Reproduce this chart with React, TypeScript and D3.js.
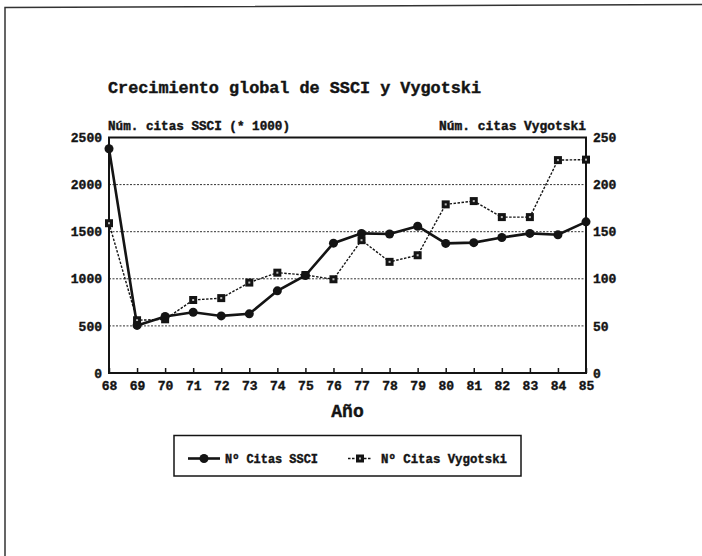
import React, { useRef, useEffect } from 'react';
import * as d3 from 'd3';

const years = [1968, 1969, 1970, 1971, 1972, 1973, 1974, 1975, 1976, 1977, 1978, 1979, 1980, 1981, 1982, 1983, 1984, 1985];
const yearLabels = ['68', '69', '70', '71', '72', '73', '74', '75', '76', '77', '78', '79', '80', '81', '82', '83', '84', '85'];
const ssci = [2380, 505, 600, 645, 606, 628, 872, 1035, 1378, 1482, 1476, 1558, 1376, 1384, 1438, 1482, 1468, 1605];
const vygotski = [159, 56, 57, 77.5, 79.5, 96, 106.5, 104, 99.5, 141, 118, 125, 179, 182.5, 165.5, 165.5, 226, 226.5];
const leftTicks = [0, 500, 1000, 1500, 2000, 2500];
const rightTicks = [0, 50, 100, 150, 200, 250];
const gridTicks = [500, 1000, 1500, 2000];

const title = 'Crecimiento global de SSCI y Vygotski';
const leftLabel = 'Núm. citas SSCI (* 1000)';
const rightLabel = 'Núm. citas Vygotski';
const xLabel = 'Año';
const legendLabels = ['Nº Citas SSCI', 'Nº Citas Vygotski'];

const FONT = '"Liberation Mono", "DejaVu Sans Mono", monospace';
const INK = '#141414';

const Chart: React.FC = () => {
  const ref = useRef<SVGSVGElement | null>(null);

  useEffect(() => {
    if (!ref.current) return;
    const svg = d3.select(ref.current);
    svg.selectAll('*').remove();

    const left = 109;
    const right = 586;
    const top = 137.5;
    const bottom = 373;

    const x = d3.scaleLinear().domain([years[0], years[years.length - 1]]).range([left, right]);
    const yL = d3.scaleLinear().domain([0, 2500]).range([bottom, top]);
    const yR = d3.scaleLinear().domain([0, 250]).range([bottom, top]);

    svg.append('rect').attr('width', 702).attr('height', 556).attr('fill', '#fff');

    // page frame of the scan
    svg.append('path')
      .attr('d', 'M5,556 L5,7.5 L702,4.5')
      .attr('fill', 'none')
      .attr('stroke', '#333')
      .attr('stroke-width', 1.5);

    const heavy = (t: d3.Selection<SVGTextElement, unknown, null, undefined>, size: number) =>
      t.attr('font-family', FONT)
        .attr('font-weight', 'bold')
        .attr('font-size', size)
        .attr('fill', INK)
        .attr('stroke', INK)
        .attr('stroke-width', 0.4);

    svg.append('text')
      .attr('x', 108)
      .attr('y', 93)
      .call(t => heavy(t, 16.5))
      .attr('textLength', 373)
      .attr('lengthAdjust', 'spacingAndGlyphs')
      .text(title);

    svg.append('text')
      .attr('x', 108)
      .attr('y', 130)
      .call(t => heavy(t, 12))
      .attr('textLength', 182)
      .attr('lengthAdjust', 'spacingAndGlyphs')
      .text(leftLabel);

    svg.append('text')
      .attr('x', 586)
      .attr('y', 130)
      .attr('text-anchor', 'end')
      .call(t => heavy(t, 12))
      .attr('textLength', 147)
      .attr('lengthAdjust', 'spacingAndGlyphs')
      .text(rightLabel);

    // grid
    svg.append('g')
      .selectAll('line')
      .data(gridTicks)
      .join('line')
      .attr('x1', left)
      .attr('x2', right)
      .attr('y1', d => yL(d))
      .attr('y2', d => yL(d))
      .attr('stroke', '#333')
      .attr('stroke-width', 1)
      .attr('stroke-dasharray', '2,1.5');

    const styleAxis = (g: d3.Selection<SVGGElement, unknown, null, undefined>) => {
      g.select('.domain').remove();
      g.selectAll('text')
        .attr('font-family', FONT)
        .attr('font-weight', 'bold')
        .attr('font-size', 13)
        .attr('fill', INK)
        .attr('stroke', INK)
        .attr('stroke-width', 0.4);
      g.selectAll('line').attr('stroke', INK).attr('stroke-width', 1.5);
    };

    svg.append('g')
      .attr('transform', `translate(0,${bottom})`)
      .call(
        d3.axisBottom(x)
          .tickValues(years)
          .tickSize(-5)
          .tickPadding(8)
          .tickFormat((d, i) => yearLabels[i])
      )
      .call(styleAxis);

    svg.append('g')
      .attr('transform', `translate(${left},0)`)
      .call(d3.axisLeft(yL).tickValues(leftTicks).tickSize(0).tickPadding(7).tickFormat(d3.format('d')))
      .call(styleAxis);

    svg.append('g')
      .attr('transform', `translate(${right},0)`)
      .call(d3.axisRight(yR).tickValues(rightTicks).tickSize(0).tickPadding(7).tickFormat(d3.format('d')))
      .call(styleAxis);

    svg.append('rect')
      .attr('x', left)
      .attr('y', top)
      .attr('width', right - left)
      .attr('height', bottom - top)
      .attr('fill', 'none')
      .attr('stroke', INK)
      .attr('stroke-width', 2);

    svg.append('text')
      .attr('x', (left + right) / 2)
      .attr('y', 417)
      .attr('text-anchor', 'middle')
      .call(t => heavy(t, 18))
      .text(xLabel);

    // Vygotski series (right axis)
    const lineV = d3.line<number>()
      .x((d, i) => x(years[i]))
      .y(d => yR(d));
    svg.append('path')
      .datum(vygotski)
      .attr('d', lineV)
      .attr('fill', 'none')
      .attr('stroke', INK)
      .attr('stroke-width', 1.4)
      .attr('stroke-dasharray', '2.5,1.5');

    // SSCI series (left axis)
    const lineS = d3.line<number>()
      .x((d, i) => x(years[i]))
      .y(d => yL(d));
    svg.append('path')
      .datum(ssci)
      .attr('d', lineS)
      .attr('fill', 'none')
      .attr('stroke', INK)
      .attr('stroke-width', 2.6);

    const squareMarker = (sel: d3.Selection<SVGGElement, unknown, null, undefined>, cx: number, cy: number) => {
      sel.append('rect')
        .attr('x', cx - 4).attr('y', cy - 4)
        .attr('width', 8).attr('height', 8)
        .attr('fill', INK);
      sel.append('rect')
        .attr('x', cx - 1).attr('y', cy - 1)
        .attr('width', 2).attr('height', 2)
        .attr('fill', '#bbb');
    };

    const vMarks = svg.append('g');
    vygotski.forEach((v, i) => squareMarker(vMarks, x(years[i]), yR(v)));

    svg.append('g')
      .selectAll('circle')
      .data(ssci)
      .join('circle')
      .attr('cx', (d, i) => x(years[i]))
      .attr('cy', d => yL(d))
      .attr('r', 4.5)
      .attr('fill', INK);

    // legend
    const lg = svg.append('g');
    lg.append('rect')
      .attr('x', 174)
      .attr('y', 435.5)
      .attr('width', 347)
      .attr('height', 40.5)
      .attr('fill', '#fff')
      .attr('stroke', INK)
      .attr('stroke-width', 1.5);
    const ly = 458.5;
    lg.append('line')
      .attr('x1', 188).attr('x2', 220).attr('y1', ly).attr('y2', ly)
      .attr('stroke', INK).attr('stroke-width', 2.6);
    lg.append('circle').attr('cx', 204).attr('cy', ly).attr('r', 4.5).attr('fill', INK);
    lg.append('text')
      .attr('x', 225).attr('y', ly + 4.5)
      .call(t => heavy(t, 12.5))
      .attr('textLength', 93).attr('lengthAdjust', 'spacingAndGlyphs')
      .text(legendLabels[0]);
    lg.append('line')
      .attr('x1', 348).attr('x2', 372).attr('y1', ly).attr('y2', ly)
      .attr('stroke', INK).attr('stroke-width', 1.4).attr('stroke-dasharray', '2.5,1.5');
    squareMarker(lg, 360, ly);
    lg.append('text')
      .attr('x', 381).attr('y', ly + 4.5)
      .call(t => heavy(t, 12.5))
      .attr('textLength', 126).attr('lengthAdjust', 'spacingAndGlyphs')
      .text(legendLabels[1]);
  }, []);

  return (
    <svg
      ref={ref}
      width={702}
      height={556}
      viewBox="0 0 702 556"
      style={{ position: 'absolute', left: 0, top: 0 }}
    />
  );
};

export default function App() {
  return <Chart />;
}
